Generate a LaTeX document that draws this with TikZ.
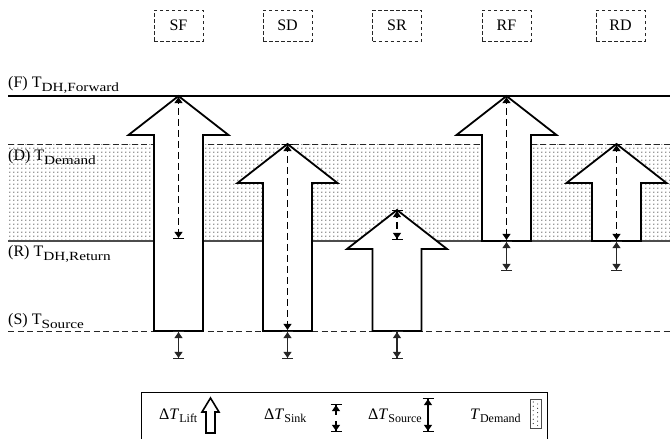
\documentclass[tikz,border=0pt]{standalone}
\usepackage{fontspec}
\setmainfont{Liberation Serif}
\usepackage{graphicx}
\usetikzlibrary{arrows.meta,patterns.meta}
\tikzdeclarepattern{name=finedots, type=uncolored,
  bounding box={(0,0) and (4.3pt,4.3pt)}, tile size={(4.3pt,4.3pt)},
  code={\fill (2.15pt,2.15pt) circle (0.7pt);}}
\newcommand\LiftArrow[3]{% center x, tip y, bottom y
  \draw[liftbox] ({#1-24.5},#3) -- ({#1-24.5},{#2+39}) -- ({#1-50},{#2+39}) -- (#1,#2)
    -- ({#1+50},{#2+39}) -- ({#1+24.5},{#2+39}) -- ({#1+24.5},#3) -- cycle;}
\newcommand\Sub[1]{\raisebox{-4pt}{\fontsize{12.5}{12}\selectfont\scalebox{1.22}[1]{#1}}}
\newcommand\LSub[1]{\raisebox{-3pt}{\fontsize{12}{12}\selectfont #1}}
\begin{document}
\begin{tikzpicture}[x=1pt,y=-1pt,
  liftbox/.style={draw=black, fill=white, line width=1.8pt, line join=miter},
  casebox/.style={draw=black!85, dash pattern=on 3.5pt off 2.5pt, line width=0.8pt,
     minimum width=49pt, minimum height=31pt, inner sep=0pt, font=\fontsize{16}{18}\selectfont},
  levellabel/.style={anchor=base west, inner sep=0pt, font=\fontsize{16}{18}\selectfont},
  legendlabel/.style={anchor=base west, inner sep=0pt, font=\fontsize{16}{18}\selectfont},
  dashline/.style={dash pattern=on 6pt off 3.5pt, line width=1pt, draw=black!85},
  tipA/.tip={Triangle[length=6pt,width=8pt]},
  tipB/.tip={Bar[width=11pt]},
  dimdash/.style={{tipB[]tipA[]}-{tipA[]tipB[]}, line width=1.1pt, draw=black,
     dash pattern=on 7pt off 4pt},
  dimsolid/.style={{tipB[]tipA[]}-{tipA[]tipB[]}, line width=1.1pt, draw=black!85}
]
\useasboundingbox (0,0) rectangle (670,439);

% demand band
\fill[pattern=finedots, pattern color=black!80] (8,144) rectangle (670,241);

% level lines
\coordinate (F-l) at (8,96);   \coordinate (F-r) at (670,96);
\coordinate (D-l) at (8,144);  \coordinate (D-r) at (670,144);
\coordinate (R-l) at (8,241);  \coordinate (R-r) at (670,241);
\coordinate (S-l) at (8,331);  \coordinate (S-r) at (670,331);
\draw[line width=1.2pt] (F-l) -- (F-r);
\draw[dashline] (D-l) -- (D-r);
\draw[line width=1.3pt, draw=black!70] (R-l) -- (R-r);
\draw[dashline] (S-l) -- (S-r);

% case boxes
\node[casebox] (SF) at (178.5,25.5) {SF};
\node[casebox] (SD) at (287.5,25.5) {SD};
\node[casebox] (SR) at (397,25.5) {SR};
\node[casebox] (RF) at (506.5,25.5) {RF};
\node[casebox] (RD) at (620.5,25.5) {RD};

% lift arrows
\LiftArrow{178.5}{96}{331}
\LiftArrow{287.5}{144}{331}
\LiftArrow{397}{210}{331}
\LiftArrow{506.5}{96}{241}
\LiftArrow{616.5}{144}{241}

% sink dimension arrows (dashed)
\coordinate (sf-t) at (178.5,96);  \coordinate (sf-b) at (178.5,239);
\coordinate (sd-t) at (287.5,144); \coordinate (sd-b) at (287.5,331);
\coordinate (sr-t) at (397,210);   \coordinate (sr-b) at (397,240);
\coordinate (rf-t) at (506.5,96);  \coordinate (rf-b) at (506.5,241);
\coordinate (rd-t) at (616.5,144); \coordinate (rd-b) at (616.5,241);
\draw[dimdash] (sf-t) -- (sf-b);
\draw[dimdash] (sd-t) -- (sd-b);
\draw[dimdash] (sr-t) -- (sr-b);
\draw[dimdash] (rf-t) -- (rf-b);
\draw[dimdash] (rd-t) -- (rd-b);

% source dimension arrows (solid)
\coordinate (sf-s) at (178.5,359); \draw[dimsolid] (sd-b -| sf-t) -- (sf-s);
\coordinate (sd-s) at (287.5,359); \draw[dimsolid] (sd-b) -- (sd-s);
\coordinate (sr-s) at (397,359);   \draw[dimsolid] (sd-b -| sr-t) -- (sr-s);
\coordinate (rf-s) at (506.5,271); \draw[dimsolid] (rf-b) -- (rf-s);
\coordinate (rd-s) at (616.5,271); \draw[dimsolid] (rd-b) -- (rd-s);

% level labels
\node[levellabel] (Flab) at (8,87) {(F) T\Sub{DH,Forward}};
\node[levellabel] (Dlab) at (8,160) {(D) T\Sub{Demand}};
\node[levellabel] (Rlab) at (8,256) {(R) T\Sub{DH,Return}};
\node[levellabel] (Slab) at (8,324) {(S) T\Sub{Source}};

% legend
\coordinate (lg-bl) at (141,440); \coordinate (lg-tl) at (141,392);
\coordinate (lg-tr) at (547,392); \coordinate (lg-br) at (547,440);
\draw[line width=1pt] (lg-bl) -- (lg-tl) -- (lg-tr) -- (lg-br);

\node[legendlabel] (lgLift) at (159,419) {Δ\textit{T}\LSub{Lift}};
\draw[line width=1.6pt, fill=white]
  (206,433) -- (206,412) -- (202,412) -- (210.5,398) -- (219,412) -- (215,412) -- (215,433) -- cycle;

\node[legendlabel] (lgSink) at (264,419) {Δ\textit{T}\LSub{Sink}};
\coordinate (sk-t) at (336,404); \coordinate (sk-m1) at (336,415);
\coordinate (sk-m2) at (336,421); \coordinate (sk-b) at (336,432);
\draw[line width=1.1pt, {tipB[]tipA[]}-] (sk-t) -- (sk-m1);
\draw[line width=1.1pt, -{tipA[]tipB[]}] (sk-m2) -- (sk-b);

\node[legendlabel] (lgSource) at (368,419) {Δ\textit{T}\LSub{Source}};
\coordinate (so-t) at (428,398); \coordinate (so-b) at (428,432);
\draw[dimsolid, draw=black] (so-t) -- (so-b);

\node[legendlabel] (lgDemand) at (470,419) {\textit{T}\LSub{Demand}};
\draw[line width=0.8pt, draw=black!70] (530,399) rectangle (541,428);
\foreach \yy in {402,406.3,...,426} {
  \fill[black!80] (533.2,\yy) circle (0.6pt);
  \fill[black!80] (537.6,{\yy+2}) circle (0.6pt);
}
\end{tikzpicture}
\end{document}
